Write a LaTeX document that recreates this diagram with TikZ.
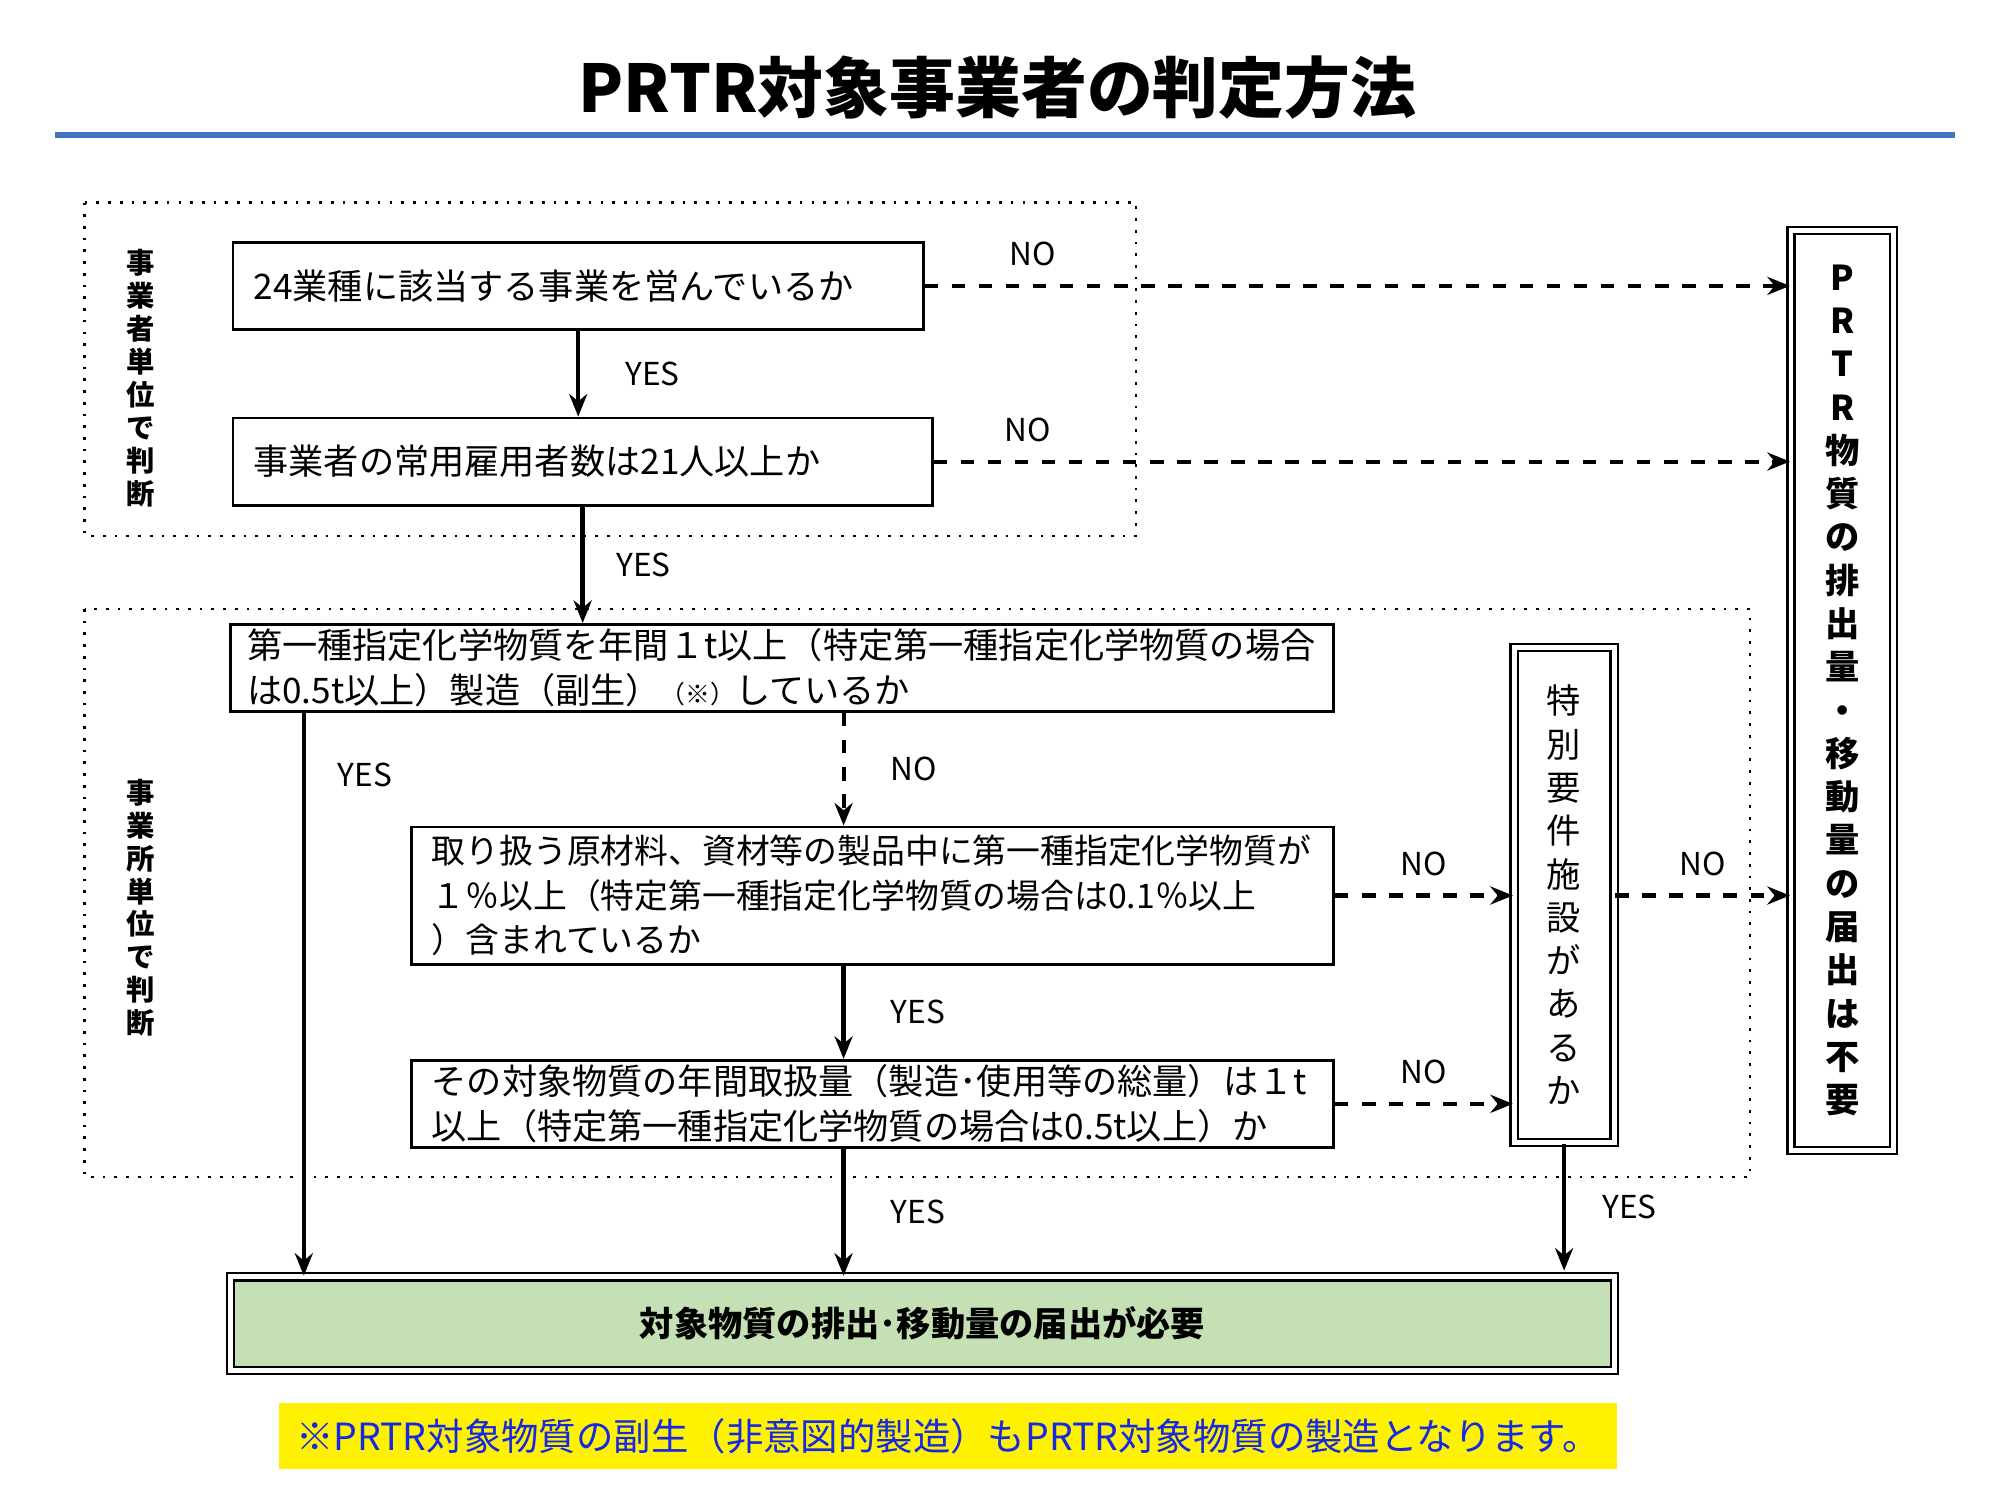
\documentclass[tikz,border=0pt]{standalone}
\usepackage{fontspec}
\setmainfont{Noto Sans CJK JP}
\usetikzlibrary{arrows.meta,calc}
\definecolor{rulebl}{RGB}{68,114,196}
\definecolor{okgreen}{RGB}{197,224,180}
\definecolor{noteblue}{RGB}{20,40,230}

\begin{document}
\begin{tikzpicture}[x=0.01cm, y=-0.01cm,
    every node/.style={inner sep=0pt},
    qbox/.style={draw, line width=0.6pt, fill=white, font=\fontsize{7.8}{9.9}\selectfont},
    dblbox/.style={draw, line width=0.5pt, double, double distance=1.1pt},
    vlabel/.style={align=center, font=\bfseries\fontsize{6.3}{7.3}\selectfont},
    area/.style={draw, line width=0.6pt, dotted},
    yesarr/.style={-{Stealth[length=5pt,width=4pt]}, line width=1pt},
    noarr/.style={-{Stealth[length=5pt,width=4pt]}, line width=0.9pt, dashed},
    lbl/.style={font=\fontsize{7}{8}\selectfont}]
    \useasboundingbox (0,0) rectangle (1560,1170);
    % title
    \node[font=\bfseries\fontsize{14.6}{16}\selectfont] (title) at (778,68) {PRTR対象事業者の判定方法};
    \draw[rulebl, line width=1.3pt] (43,105) -- (1525,105);
    % areas
    \draw[area] (66,158) rectangle (886,418);
    \draw[area] (66,475) rectangle (1365,918);
    \node[vlabel] (lab1) at (110,295) {事\\業\\者\\単\\位\\で\\判\\断};
    \node[vlabel] (lab2) at (110,708) {事\\業\\所\\単\\位\\で\\判\\断};
    % questions
    \node[qbox, minimum width=5.38cm, minimum height=0.68cm, text width=5.06cm, align=left] (qa) at (451,223)
        {24業種に該当する事業を営んでいるか};
    \node[qbox, minimum width=5.45cm, minimum height=0.68cm, text width=5.13cm, align=left] (qb) at (454.5,360)
        {事業者の常用雇用者数は21人以上か};
    \node[qbox, minimum width=8.6cm, minimum height=0.68cm, text width=8.34cm, align=left] (qc) at (610,521)
        {第一種指定化学物質を年間１t以上（特定第一種指定化学物質の場合\\は0.5t以上）製造（副生）{\fontsize{5.5}{6}\selectfont（※）}しているか};
    \node[qbox, font=\fontsize{7.5}{9.9}\selectfont, minimum width=7.19cm, minimum height=1.07cm, text width=6.87cm, align=left] (qd) at (680.5,698.5)
        {取り扱う原材料、資材等の製品中に第一種指定化学物質が\\１％以上（特定第一種指定化学物質の場合は0.1％以上\\）含まれているか};
    \node[qbox, minimum width=7.19cm, minimum height=0.68cm, text width=6.87cm, align=left] (qe) at (680.5,861)
        {その対象物質の年間取扱量（製造･使用等の総量）は１t\\以上（特定第一種指定化学物質の場合は0.5t以上）か};
    \node[dblbox, minimum width=0.78cm, minimum height=3.86cm, align=center, font=\fontsize{7.6}{9.6}\selectfont] (qf) at (1220,698)
        {特\\別\\要\\件\\施\\設\\が\\あ\\る\\か};
    % results
    \node[dblbox, minimum width=0.8cm, minimum height=7.17cm, align=center, font=\bfseries\fontsize{7.6}{9.6}\selectfont] (notreq) at (1437,538.5)
        {P\\R\\T\\R\\物\\質\\の\\排\\出\\量\\・\\移\\動\\量\\の\\届\\出\\は\\不\\要};
    \node[dblbox, fill=okgreen, minimum width=10.79cm, minimum height=0.73cm, font=\bfseries\fontsize{7.6}{9}\selectfont] (req) at (719.5,1032.5)
        {対象物質の排出･移動量の届出が必要};
    \node[fill=yellow, minimum width=10.43cm, minimum height=0.52cm, text=noteblue, font=\fontsize{8.3}{9}\selectfont] (note) at (739.5,1120)
        {※PRTR対象物質の副生（非意図的製造）もPRTR対象物質の製造となります。};
    % helper columns
    \coordinate (xc) at (237,0);
    \coordinate (xd) at (658,0);
    % connectors
    \draw[noarr] (qa.east) -- (qa.east -| notreq.west) node[lbl, pos=0.125, above=4pt] {NO};
    \draw[noarr] (qb.east) -- (qb.east -| notreq.west) node[lbl, pos=0.11, above=4pt] {NO};
    \draw[yesarr] (qa.south) -- (qa.south |- qb.north) node[lbl, midway, right=10pt] {YES};
    \draw[yesarr] (qb.south) -- (qb.south |- qc.north) node[lbl, midway, right=7pt] {YES};
    \draw[yesarr] (qc.south -| xc) -- (req.north -| xc) node[lbl, pos=0.11, right=7pt] {YES};
    \draw[noarr] (qc.south -| xd) -- (qd.north -| xd) node[lbl, midway, right=10pt] {NO};
    \draw[yesarr] (qd.south -| xd) -- (qe.north -| xd) node[lbl, midway, right=10pt] {YES};
    \draw[yesarr] (qe.south -| xd) -- (req.north -| xd) node[lbl, midway, right=10pt] {YES};
    \draw[noarr] (qd.east) -- (qd.east -| qf.west) node[lbl, midway, above=4pt] {NO};
    \draw[noarr] (qe.east) -- (qe.east -| qf.west) node[lbl, midway, above=4pt] {NO};
    \draw[noarr] (qd.east -| qf.east) -- (qd.east -| notreq.west) node[lbl, midway, above=4pt] {NO};
    \draw[yesarr] (qf.south) -- ($(req.north -| qf.south)+(0,-4)$) node[lbl, midway, right=8pt] {YES};
\end{tikzpicture}
\end{document}
